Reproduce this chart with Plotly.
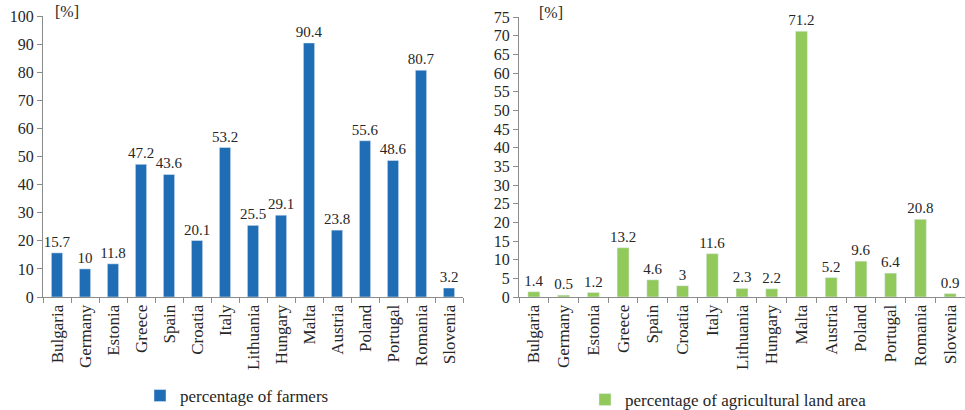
import plotly.graph_objects as go

countries = ["Bulgaria", "Germany", "Estonia", "Greece", "Spain", "Croatia", "Italy",
             "Lithuania", "Hungary", "Malta", "Austria", "Poland", "Portugal", "Romania", "Slovenia"]
farmers = [15.7, 10, 11.8, 47.2, 43.6, 20.1, 53.2, 25.5, 29.1, 90.4, 23.8, 55.6, 48.6, 80.7, 3.2]
land = [1.4, 0.5, 1.2, 13.2, 4.6, 3, 11.6, 2.3, 2.2, 71.2, 5.2, 9.6, 6.4, 20.8, 0.9]
left_ticks = list(range(0, 101, 10))
right_ticks = list(range(0, 76, 5))

FONT = "Liberation Serif, Times New Roman, serif"
TXT = "#262626"
AX = "#8c8c8c"
BLUE = "#1F6DB4"
GREEN = "#92C95B"

fig = go.Figure()
fig.add_trace(go.Bar(x=countries, y=farmers, name="percentage of farmers",
                     marker=dict(color=BLUE), width=0.4, showlegend=True,
                     text=[f"{v:g}" for v in farmers], textposition="outside",
                     constraintext="none",
                     textfont=dict(family=FONT, size=15, color=TXT), cliponaxis=False,
                     xaxis="x", yaxis="y", legend="legend"))
fig.add_trace(go.Bar(x=countries, y=land, name="percentage of agricultural land area",
                     marker=dict(color=GREEN), width=0.4, showlegend=True,
                     text=[f"{v:g}" for v in land], textposition="outside",
                     constraintext="none",
                     textfont=dict(family=FONT, size=15, color=TXT), cliponaxis=False,
                     xaxis="x2", yaxis="y2", legend="legend2"))

common_x = dict(showline=True, linecolor=AX, linewidth=1, ticks="outside", tickcolor=AX,
                ticklen=5, tickson="boundaries", tickangle=-90, showgrid=False,
                tickfont=dict(family=FONT, size=17, color=TXT))
common_y = dict(showline=True, linecolor=AX, linewidth=1, ticks="outside", tickcolor=AX,
                ticklen=5, showgrid=False, zeroline=False,
                tickfont=dict(family=FONT, size=16, color=TXT))

fig.update_layout(
    width=965, height=410, margin=dict(l=0, r=0, t=0, b=0, autoexpand=False),
    paper_bgcolor="white", plot_bgcolor="white",
    font=dict(family=FONT, color=TXT),
    xaxis=dict(domain=[43/965, 463/965], anchor="y", **common_x),
    yaxis=dict(domain=[1-297/410, 1-16/410], range=[0, 100], tickvals=left_ticks, anchor="x", **common_y),
    xaxis2=dict(domain=[519/965, 1.0], anchor="y2", **common_x),
    yaxis2=dict(domain=[1-297/410, 1-17/410], range=[0, 75], tickvals=right_ticks, anchor="x2", **common_y),
    legend=dict(x=140/965, y=1-396/410, xanchor="left", yanchor="middle",
                font=dict(family=FONT, size=17, color=TXT), bgcolor="rgba(0,0,0,0)"),
    legend2=dict(x=585/965, y=1-400/410, xanchor="left", yanchor="middle",
                 font=dict(family=FONT, size=17, color=TXT), bgcolor="rgba(0,0,0,0)"),
    annotations=[
        dict(text="[%]", x=53/965, y=1-11/410, xref="paper", yref="paper", showarrow=False,
             xanchor="left", yanchor="middle", font=dict(family=FONT, size=16, color=TXT)),
        dict(text="[%]", x=537/965, y=1-12/410, xref="paper", yref="paper", showarrow=False,
             xanchor="left", yanchor="middle", font=dict(family=FONT, size=16, color=TXT)),
    ],
)

fig.write_html("out.html", config={"displayModeBar": False},
               post_script="document.body.style.margin='0';")
